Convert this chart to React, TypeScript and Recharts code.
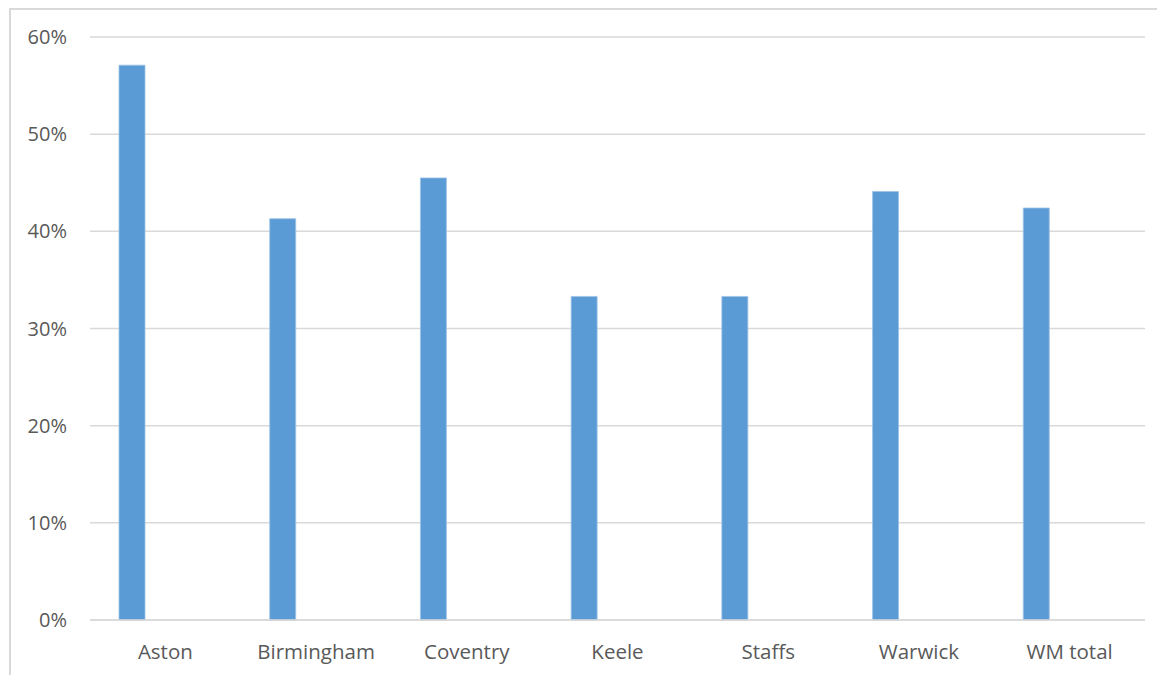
import React from "react";
import { BarChart, Bar, XAxis, YAxis, CartesianGrid } from "recharts";

const categories = ["Aston", "Birmingham", "Coventry", "Keele", "Staffs", "Warwick", "WM total"];
const shares = [57.1, 41.3, 45.5, 33.3, 33.3, 44.1, 42.4];
const yTicks = [0, 10, 20, 30, 40, 50, 60];

const data = categories.map((name, i) => ({ name, value: shares[i], empty: null as number | null }));

const FONT = "'Open Sans', Lato, sans-serif";
const TEXT = "#595959";

export default function App() {
  return (
    <div style={{ position: "relative", width: 1157, height: 667, overflow: "hidden", background: "#fff" }}>
      <div
        style={{
          position: "absolute",
          left: 1,
          top: 0,
          width: 3000,
          height: 3000,
          borderTop: "2px solid #d9d9d9",
          borderLeft: "2px solid #d9d9d9",
        }}
      />
      <BarChart
        width={1157}
        height={667}
        data={data}
        margin={{ top: 29, right: 20, bottom: 15, left: 0 }}
        barSize={26}
        barGap={40}
        style={{ position: "absolute", left: 0, top: 0 }}
      >
        <CartesianGrid vertical={false} stroke="#d9d9d9" strokeWidth={1.5} />
        <XAxis
          dataKey="name"
          height={40}
          axisLine={{ stroke: "#d9d9d9", strokeWidth: 1.5 }}
          tickLine={false}
          tickSize={0}
          tickMargin={24}
          interval={0}
          tick={{ fill: TEXT, fontSize: 20.5, fontFamily: FONT }}
        />
        <YAxis
          width={82}
          domain={[0, 60]}
          ticks={yTicks}
          axisLine={false}
          tickLine={false}
          tickSize={0}
          tickMargin={23}
          tickFormatter={(v: number) => `${v}%`}
          tick={{ fill: TEXT, fontSize: 20, fontFamily: FONT }}
        />
        <Bar dataKey="value" fill="#5b9bd5" stroke="#9dc3e6" strokeWidth={0.8} isAnimationActive={false} />
        <Bar dataKey="empty" fill="#ed7d31" isAnimationActive={false} />
      </BarChart>
    </div>
  );
}
